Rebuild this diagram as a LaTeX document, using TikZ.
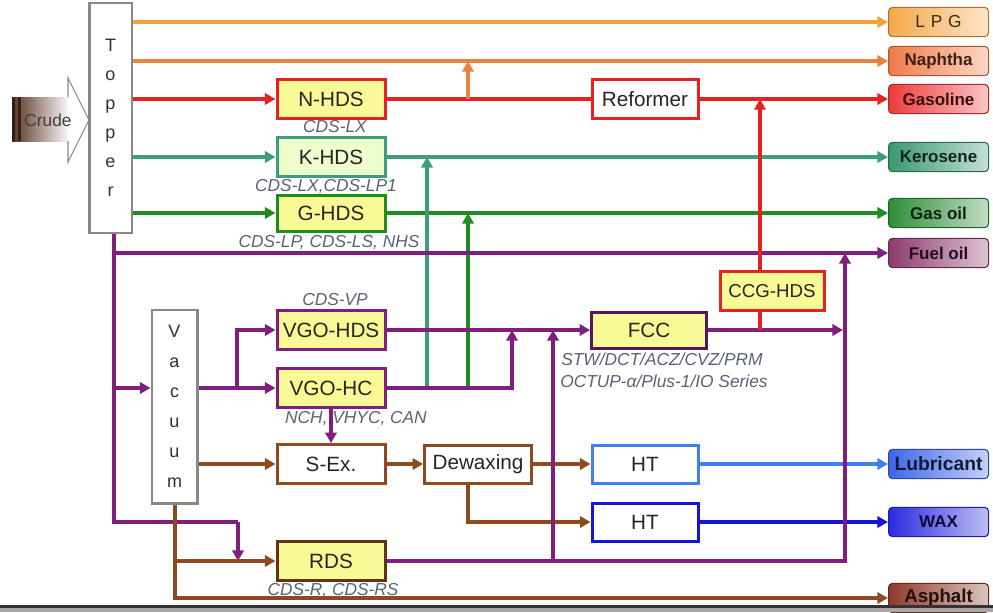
\documentclass[tikz,border=0pt]{standalone}
\usepackage{fontspec}
\setmainfont{Liberation Sans}
\usetikzlibrary{arrows.meta,calc}
\definecolor{lpgc}{HTML}{F2A23A}
\definecolor{naphc}{HTML}{E8823C}
\definecolor{redc}{HTML}{E52222}
\definecolor{tealc}{HTML}{3E9C80}
\definecolor{greenc}{HTML}{1E8C1E}
\definecolor{purpc}{HTML}{7E1F7E}
\definecolor{brownc}{HTML}{8C4A1E}
\definecolor{lbluec}{HTML}{3F7FF0}
\definecolor{dbluec}{HTML}{1414D6}
\definecolor{boxy}{HTML}{F9F996}
\definecolor{labelc}{HTML}{5A6273}
\definecolor{greyb}{HTML}{888888}
\definecolor{lpgp}{HTML}{F5A84A}
\definecolor{naphp}{HTML}{F07A48}
\definecolor{gasp}{HTML}{EE3C3C}
\definecolor{kerp}{HTML}{3A9870}
\definecolor{gop}{HTML}{2E8E36}
\definecolor{fop}{HTML}{8E3A6E}
\definecolor{lubp}{HTML}{3E66E6}
\definecolor{waxp}{HTML}{2A2AE0}
\definecolor{asp}{HTML}{8E3A2A}
\definecolor{crudeb}{HTML}{5A3424}
\begin{document}
\begin{tikzpicture}[x=0.75pt,y=-0.75pt,
  flow/.style={line width=3pt},
  arr/.style={-{Triangle[length=8pt,width=8.5pt]}},
  lpgl/.style={flow,draw=lpgc},
  naphl/.style={flow,draw=naphc},
  redl/.style={flow,draw=redc},
  teall/.style={flow,draw=tealc},
  greenl/.style={flow,draw=greenc},
  purpl/.style={flow,draw=purpc},
  brownl/.style={flow,draw=brownc},
  lbluel/.style={flow,draw=lbluec},
  dbluel/.style={flow,draw=dbluec},
  procbox/.style={draw=#1, line width=2.25pt, fill=boxy, minimum width=81pt,
    minimum height=29pt, inner sep=1pt, text=black!85,
    font=\fontsize{15.5}{18}\selectfont},
  whitebox/.style={procbox=#1, fill=white},
  prod/.style={draw=#1!70!black, line width=0.8pt, rounded corners=3pt,
    left color=#1, right color=#1!30!white, minimum width=75pt,
    minimum height=22pt, anchor=west, inner sep=1pt, text=#1!25!black,
    font=\bfseries\fontsize{12.75}{14}\selectfont},
  lbl/.style={text=labelc, font=\itshape\fontsize{13}{15}\selectfont, inner sep=0pt},
  column/.style={draw=greyb, line width=2pt, fill=white, align=center,
    text=black!80, font=\fontsize{13.5}{21.75}\selectfont}
]
\useasboundingbox (0,0) rectangle (993,612);

% crude arrow
\shade[left color=crudeb, right color=white] (12,97) rectangle (70,141);
\fill[crudeb!60!black] (12,97) rectangle (15,141);
\fill[crudeb!60!black] (18,97) rectangle (21,141);
\draw[greyb, fill=white, line width=0.8pt] (68,97) -- (68,78) -- (89,120) -- (68,162) -- (68,141);
\node[text=black!75, font=\fontsize{13}{15}\selectfont] (crude) at (48,120) {Crude};

% columns
\node[column, minimum width=32pt, minimum height=172.5pt] (topper) at (110.5,118) {T\\o\\p\\p\\e\\r};
\node[column, minimum width=34pt, minimum height=145pt, font=\fontsize{13.5}{22.5}\selectfont] (vacuum) at (174.5,406.5) {V\\a\\c\\u\\u\\m};

% process boxes
\node[procbox=redc] (nhds) at (331,99) {N-HDS};
\node[procbox=tealc, fill=boxy!85!green!40] (khds) at (331,157) {K-HDS};
\node[procbox=greenc, minimum height=27pt] (ghds) at (331,213) {G-HDS};
\node[procbox=purpc] (vgohds) at (331,330) {VGO-HDS};
\node[procbox=purpc] (vgohc) at (331,388) {VGO-HC};
\node[whitebox=brownc] (sex) at (331,464) {S-Ex.};
\node[procbox=brownc!70!black] (rds) at (331,561) {RDS};
\node[whitebox=redc, minimum width=79.5pt] (reformer) at (645,99) {Reformer};
\node[procbox=purpc!70!black, minimum width=86pt, minimum height=27pt] (fcc) at (649,330) {FCC};
\node[procbox=redc, minimum width=78pt, font=\fontsize{14}{16}\selectfont] (ccg) at (772,291) {CCG-HDS};
\node[whitebox=brownc, minimum width=80pt, minimum height=28.5pt] (dewax) at (478,464) {Dewaxing};
\node[whitebox=lbluec, minimum width=79.5pt, minimum height=28.5pt] (ht1) at (645,464) {HT};
\node[whitebox=dbluec, minimum width=79.5pt, minimum height=28.5pt] (ht2) at (645,522) {HT};

% products
\node[prod=lpgp, font=\fontsize{13}{14}\selectfont] (lpg) at (888,22) {L\,\,P\,\,G};
\node[prod=naphp] (naph) at (888,61) {Naphtha};
\node[prod=gasp] (gasoline) at (888,99) {Gasoline};
\node[prod=kerp] (kero) at (888,157) {Kerosene};
\node[prod=gop] (gasoil) at (888,213) {Gas oil};
\node[prod=fop] (fueloil) at (888,253) {Fuel oil};
\node[prod=lubp, font=\bfseries\fontsize{14.5}{16}\selectfont] (lub) at (888,464) {Lubricant};
\node[prod=waxp] (wax) at (888,522) {WAX};
\node[prod=asp, font=\bfseries\fontsize{14}{16}\selectfont] (asph) at (888,598) {Asphalt};

% labels
\node[lbl] (l1) at (335,127) {CDS-LX};
\node[lbl] (l2) at (326,187) {CDS-LX,CDS-LP1};
\node[lbl] (l3) at (329,243) {CDS-LP, CDS-LS, NHS};
\node[lbl] (l4) at (335,300) {CDS-VP};
\node[lbl] (l5) at (356,419) {NCH, VHYC, CAN};
\node[lbl, anchor=west] (l6) at (561,359) {STW/DCT/ACZ/CVZ/PRM};
\node[lbl, anchor=west] (l7) at (560,381) {OCTUP-α/Plus-1/IO Series};
\node[lbl] (l8) at (333,591) {CDS-R, CDS-RS};

% helper coordinates (x positions of vertical risers)
\coordinate (pv) at ([xshift=2.5pt]topper.south);
\coordinate (x237) at (237,0);
\coordinate (x238) at (238,0);
\coordinate (x427) at (427,0);
\coordinate (x468) at (468,0);
\coordinate (x512) at (512,0);
\coordinate (x553) at (553,0);
\coordinate (x760) at (760,0);
\coordinate (x845) at (845,0);
\coordinate (vb) at (175,0);

% topper outputs
\draw[lpgl,arr] (topper.east |- lpg.west) -- (lpg.west);
\draw[naphl,arr] (topper.east |- naph.west) -- (naph.west);
\draw[redl,arr] (topper.east |- nhds.west) -- (nhds.west);
\draw[teall,arr] (topper.east |- khds.west) -- (khds.west);
\draw[greenl,arr] (topper.east |- ghds.west) -- (ghds.west);

% naphtha / gasoline
\draw[redl] (nhds.east) -- (reformer.west);
\draw[naphl,arr] (x468 |- nhds.east) -- (x468 |- naph.west);
\draw[redl,arr] (reformer.east) -- (gasoline.west);
\draw[teall,arr] (khds.east) -- (kero.west);
\draw[greenl,arr] (ghds.east) -- (gasoil.west);

% VGO-HC output and risers
\draw[teall,arr] (x427 |- vgohc.east) -- (x427 |- khds.east);
\draw[greenl,arr] (x468 |- vgohc.east) -- (x468 |- ghds.east);
\draw[purpl,arr] (vgohc.east) -| (x512 |- fcc.west);

% purple residue from topper
\draw[purpl,arr] (pv) |- (fueloil.west);
\draw[purpl,arr] (pv) |- (vacuum.west |- vgohc.west);
\draw[purpl] (pv) |- (x238 |- ht2.west) coordinate (rdsdrop);
\draw[purpl,arr] (rdsdrop) -- (x238 |- rds.west);

% vacuum outputs
\draw[purpl,arr] (vacuum.east |- vgohc.west) -- (vgohc.west);
\draw[purpl,arr] (x237 |- vgohc.west) |- (vgohds.west);
\draw[purpl,arr] (vgohds.east) -- (fcc.west);
\draw[purpl,arr] (vgohc.south) -- (sex.north);
\draw[brownl,arr] (vacuum.east |- sex.west) -- (sex.west);
\draw[brownl,arr] (sex.east) -- (dewax.west);
\draw[brownl,arr] (dewax.east) -- (ht1.west);
\draw[brownl,arr] (x468 |- dewax.south) |- (ht2.west);
\draw[lbluel,arr] (ht1.east) -- (lub.west);
\draw[dbluel,arr] (ht2.east) -- (wax.west);
\draw[brownl,arr] (vb |- vacuum.south) |- (asph.west);
\draw[brownl,arr] (vb |- rds.west) -- (rds.west);

% RDS output and FCC
\draw[purpl] (rds.east) -| (x845 |- fcc.east);
\draw[purpl,arr] (x845 |- fcc.east) -- (x845 |- fueloil.west);
\draw[purpl,arr] (x553 |- rds.east) -- (x553 |- fcc.west);
\draw[purpl,arr] (fcc.east) -- ([xshift=-1.5pt]x845 |- fcc.east);
\draw[redl] (x760 |- fcc.east) -- (x760 |- ccg.south);
\draw[redl,arr] (x760 |- ccg.north) -- (x760 |- gasoline.west);

% bottom border
\fill[black!80] (0,605) rectangle (993,608);
\fill[black!35] (0,608) rectangle (993,612);
\end{tikzpicture}
\end{document}
